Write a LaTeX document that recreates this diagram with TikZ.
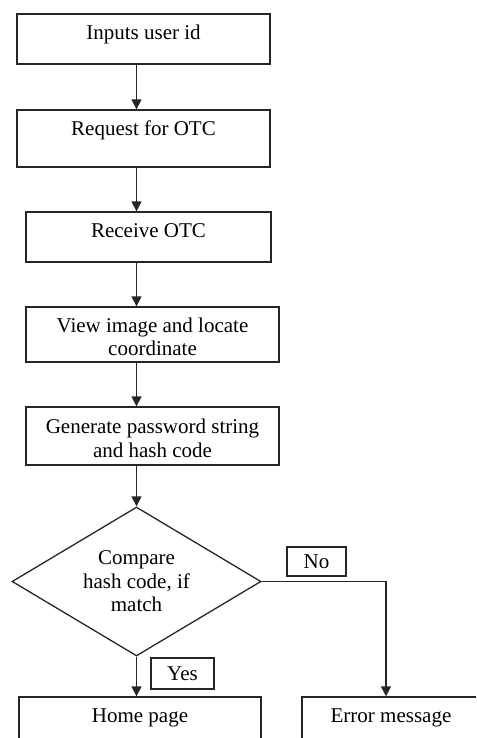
\documentclass[tikz,border=0pt]{standalone}
\usepackage{fontspec}
\setmainfont{Liberation Serif}
\usetikzlibrary{shapes.geometric,arrows.meta}
\newcommand\fsrule{\rule{0pt}{16pt}}
\tikzset{
  box/.style={draw=black!85, line width=1.3pt, rectangle, inner sep=0pt},
  lab/.style={anchor=north, yshift=-9.5pt, inner sep=0pt, align=center, font=\fontsize{21}{23.5}\selectfont},
  dec/.style={draw=black!85, line width=1.3pt, diamond, shape aspect=1.67, inner sep=0pt, align=center, font=\fontsize{21}{23.5}\selectfont},
  tag/.style={draw=black!85, line width=1.3pt, rectangle, inner sep=0pt, font=\fontsize{21}{23.5}\selectfont},
  arr/.style={draw=black!85, line width=1.3pt, -{Triangle[width=10pt,length=10pt]}}
}
\begin{document}
\begin{tikzpicture}[x=1pt,y=-1pt]
\useasboundingbox (0,0) rectangle (476,738);
\clip (0,0) rectangle (476,738);
\node[box, minimum width=253pt, minimum height=50pt, label={[lab]north:\fsrule Inputs user id}] (b1) at (143.5,39) {};
\node[box, minimum width=253pt, minimum height=57pt, label={[lab]north:\fsrule Request for OTC}] (b2) at (143.5,138.5) {};
\node[box, minimum width=245pt, minimum height=50pt, label={[lab]north:\fsrule Receive OTC}] (b3) at (148.5,237) {};
\node[box, minimum width=253pt, minimum height=55pt, label={[lab]north:\fsrule View image and locate\\coordinate}] (b4) at (152.5,334.5) {};
\node[box, minimum width=253pt, minimum height=58pt, label={[lab, yshift=-1.5pt]north:\fsrule Generate password string\\and hash code}] (b5) at (152.5,436) {};
\node[dec, minimum width=249pt, minimum height=149pt] (d) at (136.5,581.5) {Compare\\hash code, if\\match};
\node[tag, minimum width=59pt, minimum height=29pt] (no) at (316.5,561.5) {No};
\node[tag, minimum width=63pt, minimum height=31pt] (yes) at (182.5,673.5) {Yes};
\node[box, minimum width=242pt, minimum height=60pt, label={[lab]north:\fsrule Home page}] (home) at (140,727) {};
\node[box, minimum width=178pt, minimum height=60pt, label={[lab]north:\fsrule Error message}] (err) at (391,727) {};
\draw[arr] (b1.south -| d.north) -- (b2.north -| d.north);
\draw[arr] (b2.south -| d.north) -- (b3.north -| d.north);
\draw[arr] (b3.south -| d.north) -- (b4.north -| d.north);
\draw[arr] (b4.south -| d.north) -- (b5.north -| d.north);
\draw[arr] (b5.south -| d.north) -- (d.north);
\draw[arr] (d.south) -- (d.south |- home.north);
\draw[arr] (d.east) -| ([xshift=-5pt]err.north);
\end{tikzpicture}
\end{document}
